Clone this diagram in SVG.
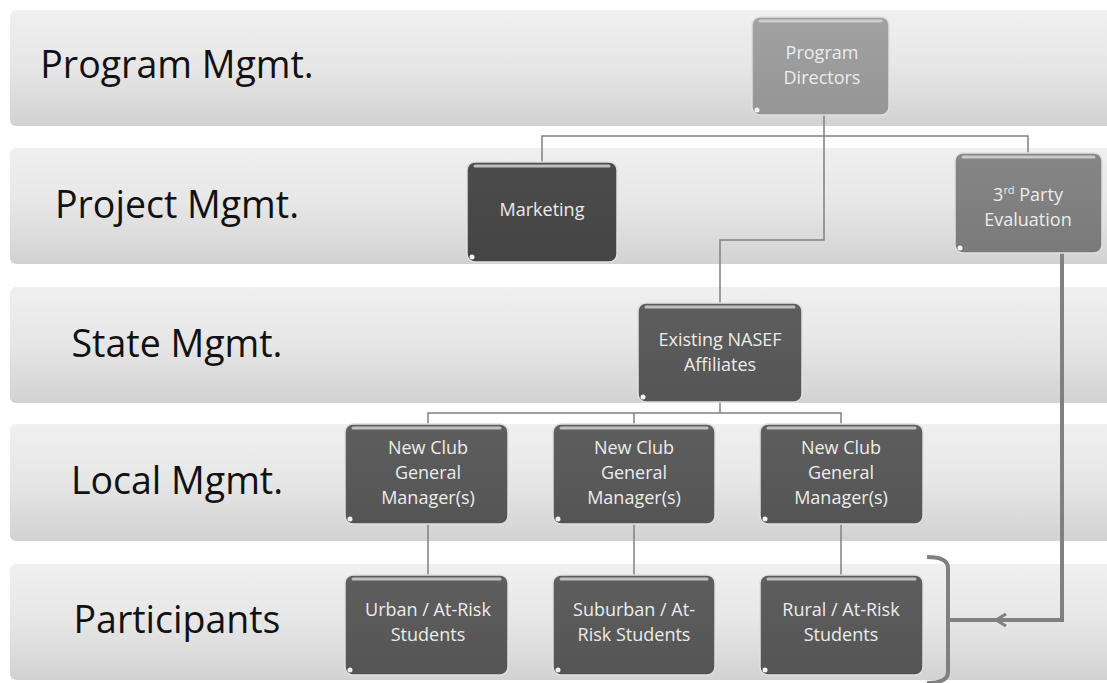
<svg xmlns="http://www.w3.org/2000/svg" width="1107" height="683" viewBox="0 0 1107 683">
<defs>
<linearGradient id="band" x1="0" y1="0" x2="0" y2="1">
<stop offset="0" stop-color="#f0f0f0"/><stop offset="0.5" stop-color="#e6e6e6"/><stop offset="1" stop-color="#d2d2d2"/>
</linearGradient>
<linearGradient id="gLight" x1="0" y1="0" x2="0" y2="1"><stop offset="0" stop-color="#a2a2a2"/><stop offset="1" stop-color="#959595"/></linearGradient>
<linearGradient id="gMid" x1="0" y1="0" x2="0" y2="1"><stop offset="0" stop-color="#868686"/><stop offset="1" stop-color="#7a7a7a"/></linearGradient>
<linearGradient id="gDark" x1="0" y1="0" x2="0" y2="1"><stop offset="0" stop-color="#5e5e5e"/><stop offset="1" stop-color="#555555"/></linearGradient>
<linearGradient id="gDarker" x1="0" y1="0" x2="0" y2="1"><stop offset="0" stop-color="#4c4c4c"/><stop offset="1" stop-color="#444444"/></linearGradient>
<marker id="arr" markerWidth="14" markerHeight="14" refX="12" refY="7" orient="auto" markerUnits="userSpaceOnUse">
<path d="M2,1 L12,7 L2,13" fill="none" stroke="#808080" stroke-width="3"/>
</marker>
</defs>
<style>
.band{fill:url(#band);}
.lbl{font-family:"Open Sans","Liberation Sans",sans-serif;font-size:37.5px;fill:#111;text-anchor:middle;}
.node{stroke:#e0e0e0;stroke-width:1.5;}
.hl{fill:none;stroke:#d8d8d8;stroke-width:3;stroke-linecap:round;opacity:0.8;}
.dot{fill:#f4f4f4;}
.nt{font-family:"Open Sans","Liberation Sans",sans-serif;font-size:18px;fill:#ececec;text-anchor:middle;}
.con{fill:none;stroke:#808080;stroke-width:1.5;}
.thick{fill:none;stroke:#808080;stroke-width:4;}
</style>
<rect width="1107" height="683" fill="#ffffff"/>
<g id="bands">
<rect class="band" x="10" y="10" width="1110" height="116" rx="6"/>
<rect class="band" x="10" y="148" width="1110" height="116" rx="6"/>
<rect class="band" x="10" y="287" width="1110" height="116" rx="6"/>
<rect class="band" x="10" y="424" width="1110" height="117" rx="6"/>
<rect class="band" x="10" y="564" width="1110" height="116" rx="6"/>
<text class="lbl" x="177" y="78">Program Mgmt.</text>
<text class="lbl" x="177" y="218">Project Mgmt.</text>
<text class="lbl" x="177" y="357">State Mgmt.</text>
<text class="lbl" x="177" y="494">Local Mgmt.</text>
<text class="lbl" x="177" y="633">Participants</text>
</g>
<g id="connectors">
<path class="con" d="M824,115 V240 H720 V303"/>
<path class="con" d="M542,162 V136 H1028 V153"/>
<path class="con" d="M720,402 V413"/>
<path class="con" d="M428,424 V413 H841 V424"/>
<path class="con" d="M634,413 V424"/>
<path class="con" d="M428,524 V575"/>
<path class="con" d="M634,524 V575"/>
<path class="con" d="M841,524 V575"/>
<path class="thick" d="M927,557 Q948,557 948,568 V672 Q948,683 927,683"/>
<path class="thick" d="M948,620 H1000"/>
<path class="thick" d="M1062,253 V620 H996" marker-end="url(#arr)"/>
</g>
<g id="program-directors">
<rect class="node" x="752" y="17" width="137" height="98" rx="8" fill="url(#gLight)"/>
<path class="hl" d="M760,21 H881"/><circle class="dot" cx="757" cy="110" r="2.5"/>
<text class="nt" x="822" y="59">Program</text><text class="nt" x="822" y="84">Directors</text>
</g>
<g id="marketing">
<rect class="node" x="467" y="162" width="150" height="100" rx="8" fill="url(#gDarker)"/>
<path class="hl" d="M475,166 H609"/><circle class="dot" cx="472" cy="257" r="2.5"/>
<text class="nt" x="542" y="216">Marketing</text>
</g>
<g id="third-party">
<rect class="node" x="955" y="153" width="147" height="100" rx="8" fill="url(#gMid)"/>
<path class="hl" d="M963,157 H1094"/><circle class="dot" cx="960" cy="248" r="2.5"/>
<text class="nt" x="1028" y="201">3<tspan font-size="11" dy="-7">rd</tspan><tspan dy="7"> Party</tspan></text>
<text class="nt" x="1028" y="226">Evaluation</text>
</g>
<g id="nasef">
<rect class="node" x="638" y="303" width="164" height="99" rx="8" fill="url(#gDark)"/>
<path class="hl" d="M646,307 H794"/><circle class="dot" cx="643" cy="397" r="2.5"/>
<text class="nt" x="720" y="346">Existing NASEF</text><text class="nt" x="720" y="371">Affiliates</text>
</g>
<g id="gm1">
<rect class="node" x="345" y="424" width="163" height="100" rx="8" fill="url(#gDark)"/>
<path class="hl" d="M353,428 H500"/><circle class="dot" cx="350" cy="519" r="2.5"/>
<text class="nt" x="428" y="454">New Club</text><text class="nt" x="428" y="479">General</text><text class="nt" x="428" y="504">Manager(s)</text>
</g>
<g id="gm2">
<rect class="node" x="553" y="424" width="162" height="100" rx="8" fill="url(#gDark)"/>
<path class="hl" d="M561,428 H707"/><circle class="dot" cx="558" cy="519" r="2.5"/>
<text class="nt" x="634" y="454">New Club</text><text class="nt" x="634" y="479">General</text><text class="nt" x="634" y="504">Manager(s)</text>
</g>
<g id="gm3">
<rect class="node" x="760" y="424" width="163" height="100" rx="8" fill="url(#gDark)"/>
<path class="hl" d="M768,428 H915"/><circle class="dot" cx="765" cy="519" r="2.5"/>
<text class="nt" x="841" y="454">New Club</text><text class="nt" x="841" y="479">General</text><text class="nt" x="841" y="504">Manager(s)</text>
</g>
<g id="urban">
<rect class="node" x="345" y="575" width="163" height="100" rx="8" fill="url(#gDark)"/>
<path class="hl" d="M353,579 H500"/><circle class="dot" cx="350" cy="670" r="2.5"/>
<text class="nt" x="428" y="616">Urban / At-Risk</text><text class="nt" x="428" y="641">Students</text>
</g>
<g id="suburban">
<rect class="node" x="553" y="575" width="162" height="100" rx="8" fill="url(#gDark)"/>
<path class="hl" d="M561,579 H707"/><circle class="dot" cx="558" cy="670" r="2.5"/>
<text class="nt" x="634" y="616">Suburban / At-</text><text class="nt" x="634" y="641">Risk Students</text>
</g>
<g id="rural">
<rect class="node" x="760" y="575" width="163" height="100" rx="8" fill="url(#gDark)"/>
<path class="hl" d="M768,579 H915"/><circle class="dot" cx="765" cy="670" r="2.5"/>
<text class="nt" x="841" y="616">Rural / At-Risk</text><text class="nt" x="841" y="641">Students</text>
</g>
</svg>
